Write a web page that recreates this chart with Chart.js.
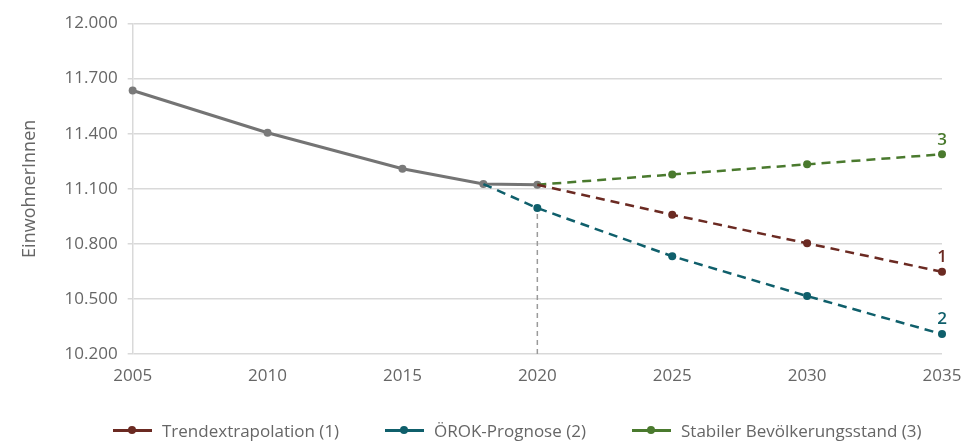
<!DOCTYPE html>
<html>
<head>
<meta charset="utf-8">
<script src="https://cdn.jsdelivr.net/npm/chart.js@4/dist/chart.umd.min.js"></script>
<style>
  html, body { margin: 0; padding: 0; background: #fff; }
  #wrap { position: relative; width: 966px; height: 442px; overflow: hidden; }
  #legend { position: absolute; left: 0; top: 418px; width: 966px; height: 24px; font-family: "Open Sans", sans-serif; font-size: 17px; color: #666; }
  .item { position: absolute; top: 0; height: 24px; display: flex; align-items: center; white-space: nowrap; }
  .item:nth-child(1) { left: 113px; }
  .item:nth-child(2) { left: 385px; }
  .item:nth-child(3) { left: 632px; }
  .mark { position: relative; width: 39px; height: 3px; margin-right: 10px; }
  .mark i { position: absolute; left: 15px; top: -2.5px; width: 8px; height: 8px; border-radius: 50%; }
</style>
</head>
<body>
<div id="wrap">
  <canvas id="chart" width="966" height="442"></canvas>
  <div id="legend"></div>
</div>
<script>
// Einwohnerzahlen (gemessen) und Szenarien bis 2035
const historyYears = [2005, 2010, 2015, 2018, 2020];
const historyValues = [11635, 11405, 11209, 11126, 11122];

const trendYears = [2020, 2025, 2030, 2035];
const trendValues = [11122, 10959, 10803, 10648];

const oerokYears = [2018, 2020, 2025, 2030, 2035];
const oerokValues = [11126, 10995, 10733, 10516, 10309];

const stableYears = [2020, 2025, 2030, 2035];
const stableValues = [11122, 11178, 11233, 11288];

const seriesNames = ['Trendextrapolation (1)', 'ÖROK-Prognose (2)', 'Stabiler Bevölkerungsstand (3)'];
const seriesTags = ['1', '2', '3'];
const seriesColors = ['#6b2a22', '#0f5f6b', '#4a7a2e'];

const xTicks = [2005, 2010, 2015, 2020, 2025, 2030, 2035];
const yTicks = [10200, 10500, 10800, 11100, 11400, 11700, 12000];

const toPoints = (xs, ys) => xs.map((x, i) => ({ x: x, y: ys[i] }));

function scenario(idx, xs, ys) {
    return {
        label: seriesNames[idx],
        tag: seriesTags[idx],
        data: toPoints(xs, ys),
        borderColor: seriesColors[idx],
        backgroundColor: seriesColors[idx],
        borderWidth: 2.5,
        borderDash: [9, 6],
        pointRadius: xs.map(x => x === xs[0] ? 0 : 4),
        pointBorderWidth: 0,
        clip: false
    };
}

const datasets = [
    scenario(0, trendYears, trendValues),
    scenario(1, oerokYears, oerokValues),
    scenario(2, stableYears, stableValues),
    {
        label: 'Bestand',
        data: toPoints(historyYears, historyValues),
        borderColor: '#747474',
        backgroundColor: '#7a7a7a',
        borderWidth: 3,
        pointRadius: 4,
        pointBorderWidth: 0,
        clip: false
    },
    {
        label: 'Marker 2020',
        data: [{ x: 2020, y: yTicks[0] }, { x: 2020, y: oerokValues[1] }],
        borderColor: '#9a9a9a',
        borderWidth: 1.5,
        borderDash: [5, 4],
        pointRadius: 0
    }
];

// Kennziffern 1/2/3 über dem letzten Punkt
const endTags = {
    id: 'endTags',
    afterDatasetsDraw(chart) {
        const ctx = chart.ctx;
        ctx.save();
        ctx.font = '600 17px "Open Sans", sans-serif';
        ctx.textAlign = 'center';
        ctx.textBaseline = 'bottom';
        chart.data.datasets.forEach((ds, i) => {
            if (!ds.tag) return;
            const pts = chart.getDatasetMeta(i).data;
            const p = pts[pts.length - 1];
            ctx.fillStyle = ds.borderColor;
            ctx.fillText(ds.tag, p.x, p.y - 6);
        });
        ctx.restore();
    }
};

const chart = new Chart(document.getElementById('chart'), {
    type: 'line',
    data: { datasets: datasets },
    options: {
        responsive: false,
        animation: false,
        layout: { padding: { left: 15, right: 24, top: 23.5, bottom: 43.5 } },
        plugins: {
            legend: { display: false },
            tooltip: { enabled: false }
        },
        scales: {
            x: {
                type: 'linear',
                min: 2005,
                max: 2035,
                afterBuildTicks: axis => { axis.ticks = xTicks.map(v => ({ value: v })); },
                afterFit: axis => { axis.paddingLeft = 0; axis.paddingRight = 0; },
                grid: { display: false, drawTicks: false },
                border: { display: false },
                ticks: {
                    padding: 12,
                    color: '#666',
                    font: { family: 'Open Sans', size: 17 },
                    callback: v => String(v)
                }
            },
            y: {
                min: 10200,
                max: 12000,
                afterBuildTicks: axis => { axis.ticks = yTicks.map(v => ({ value: v })); },
                afterFit: axis => { axis.paddingTop = 0; axis.paddingBottom = 0; },
                grid: { color: '#d9d9d9', lineWidth: 1.5, tickLength: 5 },
                border: { display: true, color: '#d9d9d9', width: 1.5 },
                ticks: {
                    padding: 10,
                    color: '#666',
                    font: { family: 'Open Sans', size: 17 },
                    callback: v => v.toLocaleString('de-DE')
                },
                title: {
                    display: true,
                    text: 'EinwohnerInnen',
                    color: '#666',
                    font: { family: 'Open Sans', size: 18 },
                    padding: { bottom: 14 }
                }
            }
        }
    },
    plugins: [endTags]
});

// Legende unten links
const legend = document.getElementById('legend');
seriesNames.forEach((name, i) => {
    const item = document.createElement('div');
    item.className = 'item';
    item.innerHTML = '<span class="mark" style="background:' + seriesColors[i] + '"><i style="background:' +
        seriesColors[i] + '"></i></span><span>' + name + '</span>';
    legend.appendChild(item);
});
</script>
</body>
</html>
